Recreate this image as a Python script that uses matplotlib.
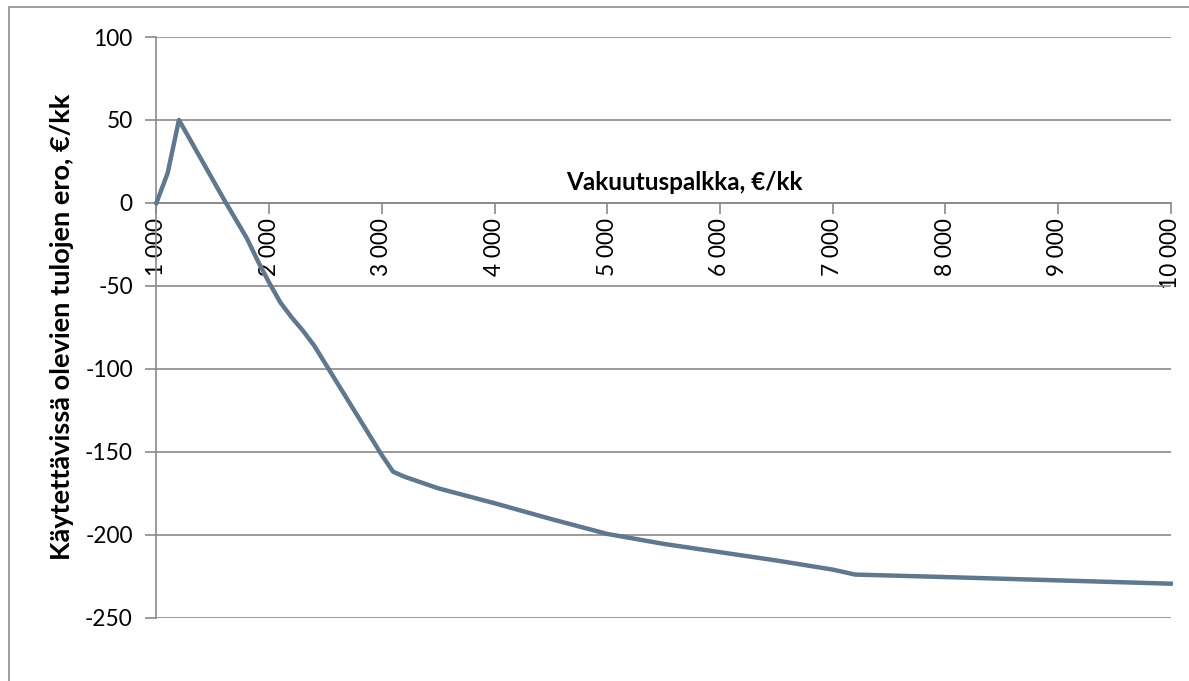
import matplotlib.pyplot as plt
from matplotlib.patches import Rectangle

plt.rcParams['font.family'] = ['Lato', 'DejaVu Sans']
plt.rcParams['axes.unicode_minus'] = False

# vakuutuspalkka (EUR/kk) ja käytettävissä olevien tulojen ero (EUR/kk)
palkka = [1000, 1100, 1200, 1400, 1600, 1800, 1900, 2000, 2100, 2200, 2300,
          2400, 2500, 2600, 2700, 2800, 2900, 3000, 3100, 3200, 3500, 4000,
          4500, 5000, 5500, 6000, 6500, 7000, 7200, 8000, 8500, 9000, 9500,
          10000]
ero = [0, 18, 50, 26, 2, -21, -35, -48, -60, -69, -77,
       -86, -97, -108, -119, -130, -141, -152, -162, -165, -172, -181,
       -190.5, -199.5, -205.5, -210.5, -215.5, -221, -224, -225.5, -226.5,
       -227.5, -228.5, -229.5]

xticks = list(range(1000, 10001, 1000))
xticklabels = ['1 000', '2 000', '3 000', '4 000', '5 000', '6 000',
               '7 000', '8 000', '9 000', '10 000']
yticks = [-250, -200, -150, -100, -50, 0, 50, 100]

W, H = 1189, 681
fig = plt.figure(figsize=(W / 100, H / 100), dpi=100)
ax = fig.add_axes([156.4 / W, 1 - 617.7 / H, (1170.7 - 156.4) / W, (617.7 - 37) / H])

# frame around the whole chart (right and bottom edges fall outside)
fig.patches.append(Rectangle((9 / W, -0.05), 1.1, 1.05 - 7 / H,
                             transform=fig.transFigure, fill=False,
                             edgecolor='#8c8c8c', lw=1.2, clip_on=False))

gridc = '#8a8a8a'
ax.set_ylim(-250, 100)
ax.set_xlim(1000, 10000)
ax.set_yticks(yticks)
ax.set_xticks(xticks, xticklabels)
ax.yaxis.grid(True, color=gridc, lw=1.2)
ax.set_axisbelow(True)

for s in ['top', 'right']:
    ax.spines[s].set_visible(False)
ax.spines['bottom'].set_position(('data', 0))
for s in ['left', 'bottom']:
    ax.spines[s].set_color(gridc)
    ax.spines[s].set_linewidth(1.2)

ax.tick_params(axis='x', length=8, width=1.2, color=gridc, labelsize=16.3,
               pad=3, labelrotation=90)
ax.tick_params(axis='y', length=8, width=1.2, color=gridc, labelsize=16.3, pad=9)
for lab in ax.get_xticklabels():
    lab.set_va('top')
    lab.set_ha('center')

ax.plot(palkka, ero, color='#5f788e', lw=3.2, solid_joinstyle='round',
        zorder=3, clip_on=False)

ax.text(0.521, 0.75, 'Vakuutuspalkka, €/kk', transform=ax.transAxes,
        ha='center', va='center', fontsize=17.5, fontweight='bold')
ax.set_ylabel('Käytettävissä olevien tulojen ero, €/kk', fontsize=19.5,
              fontweight='bold', labelpad=8)

fig.savefig('out.png', dpi=100)
